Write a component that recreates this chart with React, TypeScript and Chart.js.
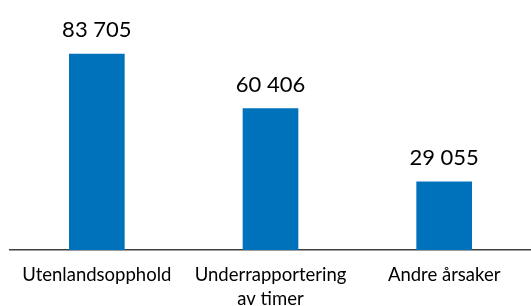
import React, { useEffect, useRef } from "react";
import { Chart, registerables } from "chart.js";

Chart.register(...registerables);

const categories: (string | string[])[] = [
  "Utenlandsopphold",
  ["Underrapportering", "av timer"],
  "Andre årsaker",
];
const values: number[] = [83705, 60406, 29055];
const valueLabels: string[] = ["83 705", "60 406", "29 055"];

const FONT = "Lato, 'DejaVu Sans', sans-serif";

const valueLabelPlugin = {
  id: "valueLabels",
  afterDatasetsDraw(chart: any) {
    const ctx = chart.ctx;
    const meta = chart.getDatasetMeta(0);
    ctx.save();
    ctx.font = `22px ${FONT}`;
    ctx.fillStyle = "#000000";
    ctx.textAlign = "center";
    ctx.textBaseline = "alphabetic";
    meta.data.forEach((bar: any, i: number) => {
      ctx.fillText(valueLabels[i], bar.x, bar.y - 17);
    });
    ctx.restore();
  },
};

export default function App() {
  const ref = useRef<HTMLCanvasElement | null>(null);
  useEffect(() => {
    if (!ref.current) return;
    const chart = new Chart(ref.current, {
      type: "bar",
      data: {
        labels: categories,
        datasets: [
          {
            data: values,
            backgroundColor: "#0072BC",
            barThickness: 55,
          },
        ],
      },
      options: {
        animation: false,
        responsive: true,
        maintainAspectRatio: false,
        layout: { padding: { left: 10, right: 0, top: 16, bottom: 0 } },
        plugins: {
          legend: { display: false },
          tooltip: { enabled: false },
        },
        scales: {
          x: {
            grid: { display: false, drawTicks: false },
            border: { display: true, color: "#404040", width: 1.5 },
            ticks: {
              color: "#000000",
              padding: 13,
              maxRotation: 0,
              font: { family: FONT, size: 18.5, lineHeight: 1.3 },
            },
          },
          y: {
            display: false,
            min: 0,
            max: 100000,
          },
        },
      },
      plugins: [valueLabelPlugin],
    });
    return () => chart.destroy();
  }, []);
  return (
    <div style={{ position: "fixed", left: 0, top: 0, width: 531, height: 324 }}>
      <canvas ref={ref} />
    </div>
  );
}
